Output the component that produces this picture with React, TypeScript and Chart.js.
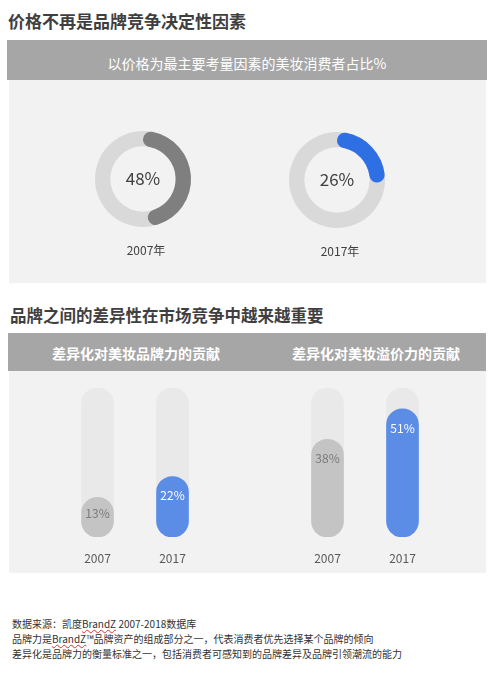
import React, { useEffect, useRef } from 'react';
import { Chart, registerables } from 'chart.js';
Chart.register(...registerables);

const FONT = '"Noto Sans CJK SC", "Noto Sans", sans-serif';

const pageTitle1 = '价格不再是品牌竞争决定性因素';
const header1 = '以价格为最主要考量因素的美妆消费者占比%';
const donutYears = ['2007年', '2017年'];
const donutValues = [48, 26];

const pageTitle2 = '品牌之间的差异性在市场竞争中越来越重要';
const barPanelTitles = ['差异化对美妆品牌力的贡献', '差异化对美妆溢价力的贡献'];
const barYears = ['2007', '2017'];
const brandPowerValues = [13, 22];
const premiumValues = [38, 51];
const trackMax = 60;
const axisMin = -4;

const footnotes = [
  '数据来源：凯度BrandZ 2007-2018数据库',
  '品牌力是BrandZ™品牌资产的组成部分之一，代表消费者优先选择某个品牌的倾向',
  '差异化是品牌力的衡量标准之一，包括消费者可感知到的品牌差异及品牌引领潮流的能力',
];

const donutColors = ['#7f7f7f', '#2f6fe4'];
const barColors = ['#c4c4c4', '#5b8de6'];
const barLabelColors = ['#7a7a7a', '#ffffff'];

function Donut({ value, year, color, left, top }: { value: number; year: string; color: string; left: number; top: number }) {
  const ref = useRef<HTMLCanvasElement>(null);
  useEffect(() => {
    const ringPlugin = {
      id: 'ring',
      beforeDatasetsDraw(chart: any) {
        const arc = chart.getDatasetMeta(0).data[0];
        const { x, y, outerRadius, innerRadius } = arc.getProps(['x', 'y', 'outerRadius', 'innerRadius'], true);
        const ctx = chart.ctx;
        ctx.save();
        ctx.beginPath();
        ctx.arc(x, y, outerRadius, 0, Math.PI * 2);
        ctx.arc(x, y, innerRadius, 0, Math.PI * 2, true);
        ctx.fillStyle = '#d9d9d9';
        ctx.fill();
        ctx.restore();
      },
      afterDatasetsDraw(chart: any) {
        const arc = chart.getDatasetMeta(0).data[0];
        const { x, y, outerRadius } = arc.getProps(['x', 'y', 'outerRadius'], true);
        const ctx = chart.ctx;
        ctx.save();
        ctx.textAlign = 'center';
        ctx.textBaseline = 'middle';
        ctx.fillStyle = '#404040';
        ctx.font = `17px ${FONT}`;
        ctx.fillText(`${value}%`, x, y);
        ctx.fillStyle = '#404040';
        ctx.font = `12px ${FONT}`;
        ctx.fillText(year, x + 3, y + outerRadius + 23);
        ctx.restore();
      },
    };
    const chart = new Chart(ref.current as HTMLCanvasElement, {
      type: 'doughnut',
      data: {
        labels: ['value', 'rest'],
        datasets: [
          {
            data: [value, 100 - value],
            backgroundColor: [color, 'rgba(0,0,0,0)'],
            borderWidth: 0,
            hoverOffset: 0,
            offset: 0,
            borderRadius: (c: any) => (c.dataIndex === 0 ? 8 : 0),
          } as any,
        ],
      },
      options: {
        animation: false,
        responsive: false,
        events: [],
        cutout: '68%',
        layout: { padding: { top: 2, bottom: 52, left: 22, right: 22 } },
        plugins: { legend: { display: false }, tooltip: { enabled: false } },
      },
      plugins: [ringPlugin],
    });
    return () => chart.destroy();
  }, []);
  return (
    <canvas
      ref={ref}
      width={140}
      height={150}
      style={{ position: 'absolute', left, top, width: 140, height: 150 }}
    />
  );
}

function Bars({ values, left }: { values: number[]; left: number }) {
  const ref = useRef<HTMLCanvasElement>(null);
  useEffect(() => {
    const labelPlugin = {
      id: 'barLabels',
      afterDatasetsDraw(chart: any) {
        const meta = chart.getDatasetMeta(0);
        const ctx = chart.ctx;
        ctx.save();
        ctx.textAlign = 'center';
        ctx.textBaseline = 'middle';
        ctx.font = `12px ${FONT}`;
        meta.data.forEach((bar: any, i: number) => {
          const { x, y, base } = bar.getProps(['x', 'y', 'base'], true);
          const h = base - y;
          ctx.fillStyle = barLabelColors[i];
          ctx.fillText(`${values[i]}%`, x, y + Math.min(19, h * 0.4));
        });
        ctx.restore();
      },
    };
    const chart = new Chart(ref.current as HTMLCanvasElement, {
      type: 'bar',
      data: {
        labels: barYears,
        datasets: [
          {
            label: 'value',
            data: values,
            backgroundColor: barColors,
            base: axisMin,
            borderRadius: 16,
            borderSkipped: false,
            barThickness: 32,
            grouped: false,
            order: 0,
          } as any,
          {
            label: 'track',
            data: values.map(() => trackMax),
            backgroundColor: '#e9e9e9',
            base: axisMin,
            borderRadius: 16,
            borderSkipped: false,
            barThickness: 32,
            grouped: false,
            order: 1,
          } as any,
        ],
      },
      options: {
        animation: false,
        responsive: false,
        events: [],
        layout: { padding: { top: 10, left: 38, right: 38, bottom: 0 } },
        scales: {
          x: {
            grid: { display: false, drawTicks: false },
            border: { display: false },
            ticks: { color: '#595959', font: { size: 12, family: FONT }, padding: 14 },
            afterFit: (s: any) => {
              s.height = 30;
            },
          },
          y: { display: false, min: axisMin, max: trackMax },
        },
        plugins: { legend: { display: false }, tooltip: { enabled: false } },
      },
      plugins: [labelPlugin],
    });
    return () => chart.destroy();
  }, []);
  return (
    <canvas
      ref={ref}
      width={226}
      height={189}
      style={{ position: 'absolute', left, top: 378, width: 226, height: 189 }}
    />
  );
}

function renderNote(s: string) {
  const parts = s.split('BrandZ');
  const out: React.ReactNode[] = [];
  parts.forEach((p, i) => {
    out.push(<span key={'p' + i}>{p}</span>);
    if (i < parts.length - 1)
      out.push(
        <span key={'b' + i} style={{ textDecoration: 'underline wavy #e03030', textDecorationThickness: '1px' }}>
          BrandZ
        </span>
      );
  });
  return out;
}

export default function App() {
  const abs = (o: React.CSSProperties): React.CSSProperties => ({ position: 'absolute', ...o });
  return (
    <div
      style={{
        position: 'absolute',
        left: 0,
        top: 0,
        width: 500,
        height: 685,
        background: '#ffffff',
        fontFamily: FONT,
        overflow: 'hidden',
      }}
    >
      <div style={abs({ left: 8, top: 12, fontSize: 17, lineHeight: '17px', fontWeight: 'bold', color: '#3f3f3f', whiteSpace: 'nowrap' })}>
        {pageTitle1}
      </div>
      <div style={abs({ left: 7, top: 40, width: 480, height: 40, background: '#a6a6a6' })} />
      <div style={abs({ left: 7, top: 56, width: 480, textAlign: 'center', fontSize: 14, lineHeight: '14px', color: '#ffffff', whiteSpace: 'nowrap' })}>
        {header1}
      </div>
      <div style={abs({ left: 9, top: 80, width: 477, height: 203, background: '#f2f2f2' })} />
      <Donut value={donutValues[0]} year={donutYears[0]} color={donutColors[0]} left={73} top={129} />
      <Donut value={donutValues[1]} year={donutYears[1]} color={donutColors[1]} left={267} top={130} />

      <div style={abs({ left: 10, top: 307, fontSize: 16.5, lineHeight: '16.5px', fontWeight: 'bold', color: '#3f3f3f', whiteSpace: 'nowrap' })}>
        {pageTitle2}
      </div>
      <div style={abs({ left: 8, top: 333, width: 478, height: 38, background: '#a6a6a6' })} />
      <div style={abs({ left: 36, top: 346, width: 200, textAlign: 'center', fontSize: 14, lineHeight: '14px', fontWeight: 'bold', color: '#ffffff', whiteSpace: 'nowrap' })}>
        {barPanelTitles[0]}
      </div>
      <div style={abs({ left: 276, top: 346, width: 200, textAlign: 'center', fontSize: 14, lineHeight: '14px', fontWeight: 'bold', color: '#ffffff', whiteSpace: 'nowrap' })}>
        {barPanelTitles[1]}
      </div>
      <div style={abs({ left: 9, top: 371, width: 477, height: 202, background: '#f2f2f2' })} />
      <Bars values={brandPowerValues} left={22} />
      <Bars values={premiumValues} left={252} />

      <div style={abs({ left: 12, top: 616, fontSize: 10, lineHeight: '15px', color: '#333333', whiteSpace: 'nowrap' })}>
        {footnotes.map((f, i) => (
          <div key={i}>{renderNote(f)}</div>
        ))}
      </div>
    </div>
  );
}
